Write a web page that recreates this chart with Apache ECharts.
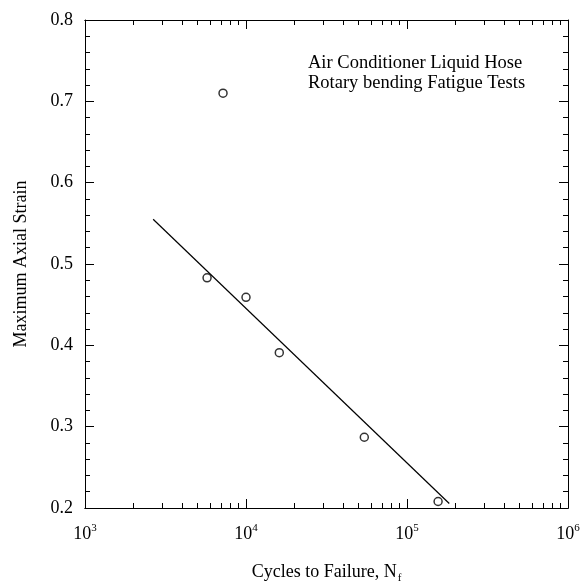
<!DOCTYPE html>
<html>
<head>
<meta charset="utf-8">
<title>Rotary bending fatigue</title>
<script src="https://cdn.jsdelivr.net/npm/echarts@6/dist/echarts.min.js"></script>
<style>
  html, body { margin: 0; padding: 0; background: #fff; }
  #chart { width: 581px; height: 586px; }
</style>
</head>
<body>
<div id="chart"></div>
<script>
// test data
const cycles = [5730, 7200, 10000, 16100, 54300, 156000]
const strain = [0.483, 0.710, 0.459, 0.391, 0.287, 0.208]

// fitted line end points
const fitCycles = [2650, 183000]
const fitStrain = [0.555, 0.2055]

// tick labels
const xMajorTicks = [1e3, 1e4, 1e5, 1e6]
const xMinorTicks = [
  2e3, 3e3, 4e3, 5e3, 6e3, 7e3, 8e3, 9e3,
  2e4, 3e4, 4e4, 5e4, 6e4, 7e4, 8e4, 9e4,
  2e5, 3e5, 4e5, 5e5, 6e5, 7e5, 8e5, 9e5
]
const yMin = 0.2
const yMax = 0.8
const yStep = 0.1

const font = 'Liberation Serif'
const black = '#000'

const chart = echarts.init(document.getElementById('chart'))

function logAxis(position, major, showLabel, extra) {
  return Object.assign({
    type: 'log',
    logBase: 10,
    position: position,
    min: 1000,
    max: 1e6,
    splitLine: { show: false },
    axisLine: { show: true, onZero: false, lineStyle: { color: black, width: 1 } },
    axisTick: {
      show: true,
      inside: true,
      length: major ? 9 : 5,
      customValues: major ? xMajorTicks : xMinorTicks,
      lineStyle: { color: black, width: 1 }
    },
    axisLabel: {
      show: showLabel,
      customValues: xMajorTicks,
      margin: 15,
      formatter: function (v) {
        return '{b|10}{s|' + Math.round(Math.log10(v)) + '}'
      },
      rich: {
        b: { fontFamily: font, fontSize: 18, color: black },
        s: { fontFamily: font, fontSize: 11, color: black, padding: [0, 0, 12, 0] }
      }
    }
  }, extra || {})
}

function linAxis(position, showLabel, extra) {
  return Object.assign({
    type: 'value',
    position: position,
    min: yMin,
    max: yMax,
    interval: yStep,
    splitLine: { show: false },
    axisLine: { show: true, onZero: false, lineStyle: { color: black, width: 1 } },
    axisTick: { show: true, inside: true, length: 9, lineStyle: { color: black, width: 1 } },
    minorTick: { show: true, splitNumber: 5, length: 5, lineStyle: { color: black, width: 1 } },
    axisLabel: {
      show: showLabel,
      margin: 12,
      fontFamily: font,
      fontSize: 18,
      color: black,
      formatter: function (v) { return v.toFixed(1) }
    }
  }, extra || {})
}

chart.setOption({
  animation: false,
  backgroundColor: '#fff',
  grid: { left: 85, right: 13, top: 20, bottom: 78, containLabel: false, outerBoundsMode: 'none' },
  xAxis: [
    logAxis('bottom', true, true, {
      name: '{a|Cycles to Failure, N}{f|f}',
      nameLocation: 'middle',
      nameGap: 53,
      nameTextStyle: {
        rich: {
          a: { fontFamily: font, fontSize: 18, color: black },
          f: { fontFamily: font, fontSize: 11, color: black, padding: [12, 0, 0, 1] }
        }
      }
    }),
    logAxis('bottom', false, false),
    logAxis('top', true, false),
    logAxis('top', false, false)
  ],
  yAxis: [
    linAxis('left', true, {
      name: 'Maximum Axial Strain',
      nameLocation: 'middle',
      nameGap: 55,
      nameTextStyle: { fontFamily: font, fontSize: 18, color: black }
    }),
    linAxis('right', false)
  ],
  graphic: [
    {
      type: 'text',
      left: 308,
      top: 53,
      style: {
        text: 'Air Conditioner Liquid Hose\nRotary bending Fatigue Tests',
        font: '18.5px "Liberation Serif"',
        lineHeight: 20,
        fill: black
      }
    }
  ],
  series: [
    {
      name: 'fit',
      type: 'line',
      xAxisIndex: 0,
      yAxisIndex: 0,
      data: fitCycles.map(function (c, i) { return [c, fitStrain[i]] }),
      symbol: 'none',
      lineStyle: { color: black, width: 1.2 },
      z: 2
    },
    {
      name: 'tests',
      type: 'scatter',
      xAxisIndex: 0,
      yAxisIndex: 0,
      data: cycles.map(function (c, i) { return [c, strain[i]] }),
      symbol: 'circle',
      symbolSize: 8,
      itemStyle: { color: '#fff', borderColor: black, borderWidth: 1.5 },
      z: 3
    }
  ]
})
</script>
</body>
</html>
